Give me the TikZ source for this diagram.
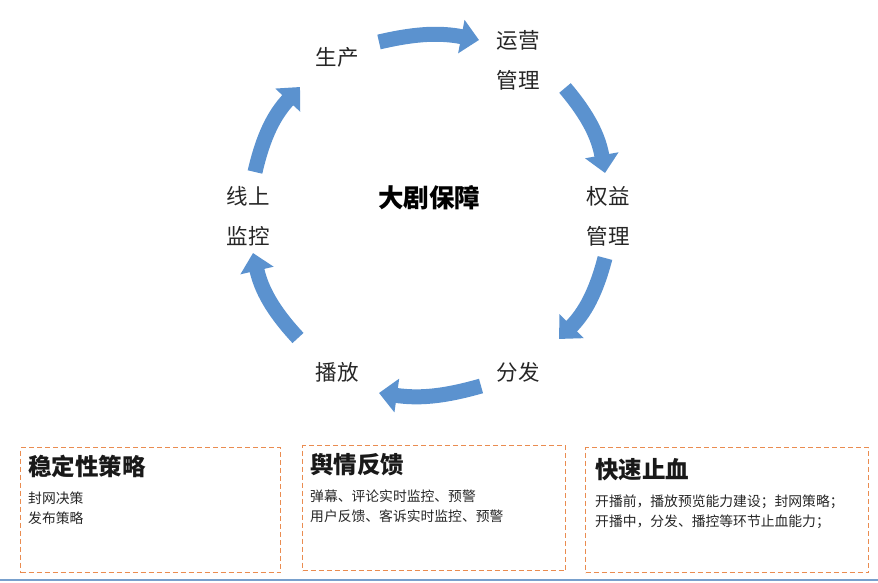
\documentclass[tikz,border=0pt]{standalone}
\usepackage{fontspec}
\usepackage{xcolor}
\usepackage{tikz}
\usetikzlibrary{arrows.meta,positioning}
\newfontfamily\cjk{Noto Sans CJK SC}
\definecolor{cycleblue}{RGB}{91,146,207}
\definecolor{boxorange}{RGB}{234,140,80}
\definecolor{lineblue}{RGB}{120,160,205}
\tikzset{
  stage/.style={font=\cjk\fontsize{21.5}{40}\selectfont, align=center, text=black!85},
  flow/.style={cycleblue, line width=15pt, -{Triangle[width=33pt,length=18pt]}},
  panel/.style={draw=boxorange, dash pattern=on 5pt off 3pt, line width=1.1pt, anchor=north west, minimum height=125pt},
  paneltitle/.style={font=\cjk\bfseries\fontsize{23.5}{26}\selectfont, inner sep=0pt, text=black!90},
  paneltext/.style={font=\cjk\fontsize{13.8}{20}\selectfont, align=left, inner sep=0pt, text=black!85}
}

\begin{document}
\begin{tikzpicture}[x=1pt,y=1pt]

\useasboundingbox (0,0) rectangle (878,583);

% Etapas do ciclo
\node[stage] (prod) at (337,526) {生产};
\node[stage] (ops) at (518,523) {运营\\管理};
\node[stage] (rights) at (608,367) {权益\\管理};
\node[stage] (dist) at (518,211) {分发};
\node[stage] (play) at (337,211) {播放};
\node[stage] (mon) at (248,367) {线上\\监控};

% Centro
\node[font=\cjk\bfseries\fontsize{25.5}{28}\selectfont] (hub) at (429,385) {大剧保障};

% Setas do ciclo
\coordinate (prod-out) at (379,541);
\coordinate (ops-in) at (479,543);
\coordinate (ops-out) at (565,495);
\coordinate (rights-in) at (605,410);
\coordinate (rights-out) at (605,325);
\coordinate (dist-in) at (559,244);
\coordinate (dist-out) at (481,197);
\coordinate (play-in) at (379,190);
\coordinate (play-out) at (298,245);
\coordinate (mon-in) at (253,330);
\coordinate (mon-out) at (255,411);
\coordinate (prod-in) at (300,496);

\draw[flow] (prod-out) to[bend left=12] (ops-in);
\draw[flow] (ops-out) to[bend left=15] (rights-in);
\draw[flow] (rights-out) to[bend left=15] (dist-in);
\draw[flow] (dist-out) to[bend left=12] (play-in);
\draw[flow] (play-out) to[bend left=15] (mon-in);
\draw[flow] (mon-out) to[bend left=15] (prod-in);

% Quadros inferiores
\node[panel, minimum width=260pt] (box1) at (20,136) {};
\node[panel, minimum width=263pt] (box2) at (302,138) {};
\node[panel, minimum width=283pt] (box3) at (585,136) {};

\node[paneltitle, below right=8pt and 8pt of box1.north west] (title1) {稳定性策略};
\node[paneltitle, below right=8pt and 8pt of box2.north west] (title2) {舆情反馈};
\node[paneltitle, below right=11pt and 10pt of box3.north west] (title3) {快速止血};

\node[paneltext, below=14pt of title1.south west, anchor=north west] (text1) {封网决策\\发布策略};
\node[paneltext, below=14pt of title2.south west, anchor=north west] (text2) {弹幕、评论实时监控、预警\\用户反馈、客诉实时监控、预警};
\node[paneltext, below=14pt of title3.south west, anchor=north west] (text3) {开播前，播放预览能力建设；封网策略；\\开播中，分发、播控等环节止血能力；};

% Linha inferior
\draw[lineblue, line width=2pt] (0,3) -- (878,3);

\end{tikzpicture}
\end{document}
